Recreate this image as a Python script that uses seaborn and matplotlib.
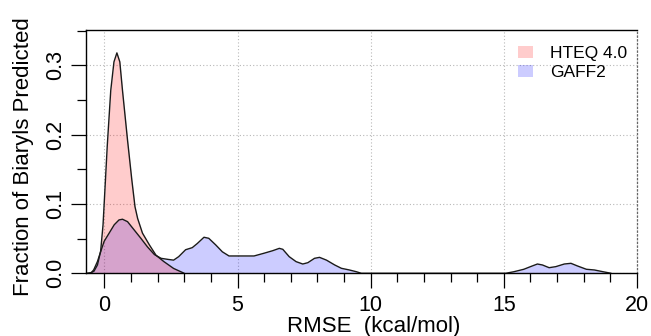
import numpy as np
import pandas as pd
import matplotlib
matplotlib.use('Agg')
import matplotlib.pyplot as plt
from matplotlib.ticker import MultipleLocator, FixedLocator
from matplotlib.patches import Patch
import seaborn as sns

# density curves (RMSE, fraction)
hteq_x = [-0.7, -0.5, -0.39, -0.26, -0.14, -0.05, 0.02, 0.11, 0.24, 0.36, 0.47,
          0.58, 0.68, 0.87, 1.03, 1.15, 1.25, 1.43, 1.69, 1.94, 2.23, 2.6, 3.0]
hteq_y = [0.0, 0.001, 0.003, 0.012, 0.032, 0.07, 0.12, 0.185, 0.264, 0.305, 0.318,
          0.305, 0.264, 0.192, 0.135, 0.096, 0.079, 0.058, 0.041, 0.026, 0.017, 0.007, 0.0]

gaff_x = [-0.51, -0.4, -0.26, -0.14, -0.01, 0.18, 0.37, 0.55, 0.68, 0.87, 1.12,
          1.37, 1.62, 1.88, 2.13, 2.4, 2.6, 2.79, 3.05, 3.3, 3.49, 3.74, 3.92,
          4.18, 4.43, 4.68, 5.0, 5.62, 6.0, 6.32, 6.57, 6.7, 6.94, 7.2, 7.45,
          7.64, 7.89, 8.08, 8.34, 8.65, 8.9, 9.2, 9.46, 9.65, 15.07, 15.38,
          15.75, 16.0, 16.26, 16.45, 16.7, 16.95, 17.27, 17.52, 17.77, 18.1,
          18.4, 18.72, 19.03]
gaff_y = [0.0, 0.005, 0.017, 0.031, 0.046, 0.058, 0.070, 0.077, 0.078, 0.0745, 0.0625,
          0.0505, 0.038, 0.027, 0.0216, 0.020, 0.019, 0.024, 0.034, 0.037, 0.043, 0.052, 0.0505,
          0.041, 0.031, 0.025, 0.025, 0.025, 0.029, 0.0326, 0.036, 0.0346, 0.024, 0.0168, 0.0134,
          0.0153, 0.0216, 0.023, 0.019, 0.012, 0.0072, 0.0048, 0.0023, 0.0, 0.0, 0.0023,
          0.0058, 0.0096, 0.0134, 0.012, 0.0081, 0.0096, 0.0134, 0.0144, 0.0105, 0.0058,
          0.0048, 0.0023, 0.0]

series_names = ['HTEQ 4.0', 'GAFF2']
series_colors = [(1, 0, 0, 0.2), (0, 0, 1, 0.2)]
x_ticks = [0, 5, 10, 15, 20]
y_ticks = [0.0, 0.1, 0.2, 0.3]
y_tick_labels = ['0.0', '0.1', '0.2', '0.3']

sns.set_style('white')
plt.rcParams['font.family'] = ['Liberation Sans', 'DejaVu Sans']
plt.rcParams['text.color'] = 'black'

fig = plt.figure(figsize=(6.51, 3.36), dpi=100)
ax = fig.add_axes([0.1321, 0.1866, 0.8464, 0.7241])

# GAFF2 first, HTEQ on top (overlap turns magenta)
curves = [(gaff_x, gaff_y, series_colors[1]), (hteq_x, hteq_y, series_colors[0])]
for xs, ys, col in curves:
    ax.fill_between(xs, ys, 0, color=col, lw=0)
    sns.lineplot(x=xs, y=ys, color='#1a1a1a', lw=1.0, ax=ax, sort=False, estimator=None)

ax.set_xlim(-0.69, 20)
ax.set_ylim(0, 0.351)

ax.xaxis.set_major_locator(FixedLocator(x_ticks))
ax.xaxis.set_minor_locator(MultipleLocator(1))
ax.set_yticks(y_ticks)
ax.set_yticklabels(y_tick_labels)
ax.yaxis.set_minor_locator(MultipleLocator(0.05))

ax.grid(True, which='major', color='#b8b8b8', ls=(0, (1, 2)), lw=0.8)
ax.set_axisbelow(True)

ax.tick_params(axis='both', which='both', bottom=True, left=True, direction='out',
               color='black', width=0.9, labelsize=15.5, labelcolor='black')
ax.tick_params(which='major', length=10.5)
ax.tick_params(which='minor', length=6.5)
ax.tick_params(axis='x', pad=5)
ax.tick_params(axis='y', pad=4)
for lab in ax.get_yticklabels():
    lab.set_rotation(90)
    lab.set_va('center')

for side in ['left', 'top', 'bottom']:
    ax.spines[side].set_color('black')
    ax.spines[side].set_linewidth(1.0)
ax.spines['right'].set_color('#666666')
ax.spines['right'].set_linestyle((0, (1, 2)))
ax.spines['right'].set_linewidth(0.9)

fig.text(24 / 651, 1 - 157 / 336, 'Fraction of Biaryls Predicted', rotation=90,
         ha='center', va='center', fontsize=16, color='black')
fig.text(374 / 651, 4 / 336, 'RMSE  (kcal/mol)', ha='center', va='baseline',
         fontsize=16, color='black')

handles = [Patch(facecolor=c, edgecolor='none') for c in series_colors]
ax.legend(handles, series_names, loc='upper left', bbox_to_anchor=(0.784, 0.935),
          frameon=False, fontsize=12.5, handlelength=0.85, handleheight=0.7,
          handletextpad=1.0, labelspacing=0.25, borderpad=0, borderaxespad=0,
          labelcolor='black')

fig.savefig('out.png', dpi=100)
